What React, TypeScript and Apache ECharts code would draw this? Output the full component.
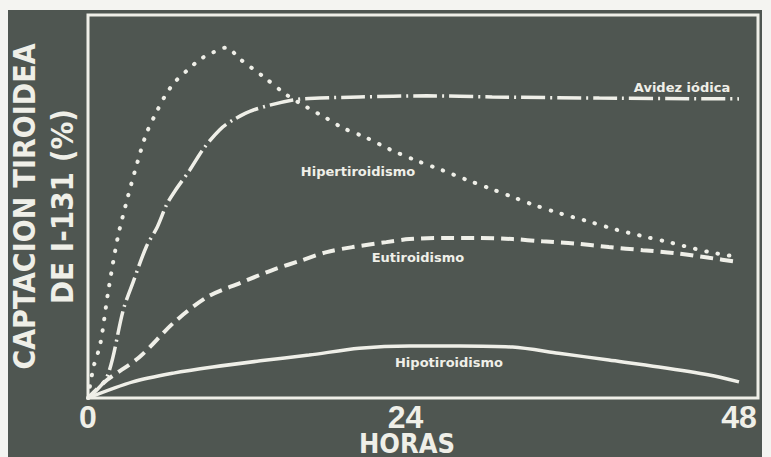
import React, { useEffect, useRef } from "react";
import * as echarts from "echarts";

// Horas after the I-131 dose vs. thyroid uptake (%), one curve per condition
const xTicks = [0, 24, 48];

const hipertiroidismo: [number, number][] = [
  [0, 0], [0.4, 8], [0.9, 14], [1.5, 28], [2.2, 42], [2.9, 52], [3.6, 61],
  [4.3, 69], [5.1, 75], [5.7, 79], [6.4, 82.5], [7.3, 85.5], [8.3, 88.5],
  [9.2, 90.2], [10.2, 91.5], [11.2, 88.5], [12.9, 84], [14.7, 79], [16.1, 76],
  [17.6, 73], [18.8, 70.5], [20.5, 68], [22.2, 65], [24.2, 62], [26.1, 59.5],
  [27.9, 57], [29.8, 54.5], [31.3, 52.5], [32.8, 50.5], [34.7, 48.3], [37, 46],
  [38.9, 44], [41.2, 42], [42.8, 40.7], [45.8, 38.1], [48, 36.8],
];

const avidezIodica: [number, number][] = [
  [0, 0], [1.4, 5.5], [2.6, 23], [3.3, 30], [4.3, 39.5], [5.1, 44.6],
  [5.8, 50.5], [6.4, 54], [7.5, 59.5], [8.5, 65], [9.7, 70], [10.7, 72.6],
  [12.2, 75.2], [15.1, 77.8], [17.1, 78.3], [20, 78.6], [25, 78.9],
  [29.8, 78.6], [37.7, 78.3], [48, 78.1],
];

const eutiroidismo: [number, number][] = [
  [0, 0], [1.4, 4.7], [3.8, 10.7], [6.3, 19.6], [8.8, 26.4], [11.2, 30],
  [13.6, 33.4], [15.8, 36], [17.6, 38.1], [19.5, 39.4], [22, 40.7],
  [23.7, 41.5], [26.1, 41.8], [28.6, 41.8], [31.3, 41.5], [33.5, 40.9],
  [36, 40.3], [38.4, 39.4], [40.9, 38.6], [43.4, 37.8], [45.8, 36.6], [48, 35.5],
];

const hipotiroidismo: [number, number][] = [
  [0, 0], [3.3, 4.2], [6.3, 6.5], [9.2, 8.1], [12.7, 9.7], [16.3, 11.2],
  [20, 13], [23.7, 13.6], [27.4, 13.6], [31.3, 13.3], [34.7, 11.7],
  [38.4, 9.9], [42.1, 8.1], [45.8, 6], [48, 4.2],
];

const INK = "#efefe8";
const BG = "#4f5651";
const TITLE_FONT = "'DejaVu Sans Condensed', 'DejaVu Sans', sans-serif";
const LABEL_FONT = "'DejaVu Sans', sans-serif";

export default function App() {
  const ref = useRef<HTMLDivElement>(null);

  useEffect(() => {
    if (!ref.current) return;
    const chart = echarts.init(ref.current, null, { renderer: "svg" });

    const curve = (name: string, data: [number, number][], lineStyle: any) => ({
      name,
      type: "line",
      data,
      smooth: 0.3,
      showSymbol: false,
      symbol: "none",
      lineStyle: { color: INK, ...lineStyle },
      z: 3,
    });

    const curveLabel = (text: string, x: number, y: number) => ({
      type: "text",
      x,
      y,
      style: {
        text,
        fill: INK,
        font: `bold 13px ${LABEL_FONT}`,
        align: "center",
        verticalAlign: "middle",
      },
      z: 10,
    });

    chart.setOption({
      animation: false,
      backgroundColor: BG,
      grid: {
        left: 80,
        top: 5,
        right: 4,
        bottom: 59,
        containLabel: false,
        outerBoundsMode: "none",
        show: true,
        borderColor: INK,
        borderWidth: 3,
        backgroundColor: "transparent",
      },
      xAxis: {
        type: "value",
        min: 0,
        max: 49.4,
        interval: 24,
        axisLine: { show: false },
        axisTick: { show: false },
        splitLine: { show: false },
        axisLabel: {
          color: INK,
          fontFamily: "'Liberation Sans', sans-serif",
          fontWeight: "bold",
          fontSize: 32,
          lineHeight: 24,
          margin: 7,
          formatter: (v: number) => {
            if (!xTicks.includes(v)) return "";
            return v === 24 ? `{mid|${v}}` : String(v);
          },
          rich: {
            mid: {
              color: INK,
              fontFamily: "'Liberation Sans', sans-serif",
              fontWeight: "bold",
              fontSize: 32,
              lineHeight: 24,
              padding: [0, 16, 0, 0],
            },
          },
        },
      },
      yAxis: {
        type: "value",
        min: 0,
        max: 100,
        name: "{a|CAPTACION TIROIDEA}\n{b|DE I-131 (%)}",
        nameLocation: "middle",
        nameRotate: 90,
        nameGap: 7,
        nameTextStyle: {
          color: INK,
          rich: {
            a: {
              color: INK,
              fontFamily: TITLE_FONT,
              fontWeight: "bold",
              fontSize: 30,
              lineHeight: 38,
            },
            b: {
              color: INK,
              fontFamily: TITLE_FONT,
              fontWeight: "bold",
              fontSize: 31,
              lineHeight: 38,
            },
          },
        },
        axisLine: { show: false },
        axisTick: { show: false },
        splitLine: { show: false },
        axisLabel: { show: false },
      },
      series: [
        curve("Hipertiroidismo", hipertiroidismo, {
          width: 4,
          type: [0.5, 11],
          cap: "round",
        }),
        curve("Avidez iódica", avidezIodica, {
          width: 3.5,
          type: [24, 5, 2, 5],
        }),
        curve("Eutiroidismo", eutiroidismo, {
          width: 4,
          type: [13, 7],
        }),
        curve("Hipotiroidismo", hipotiroidismo, {
          width: 3.5,
          type: "solid",
        }),
      ],
      graphic: [
        curveLabel("Avidez iódica", 674, 77),
        curveLabel("Hipertiroidismo", 350, 161),
        curveLabel("Eutiroidismo", 410, 247),
        curveLabel("Hipotiroidismo", 441, 352),
        {
          type: "text",
          x: 399,
          y: 433,
          style: {
            text: "HORAS",
            fill: INK,
            font: `bold 27px ${TITLE_FONT}`,
            lineHeight: 22,
            align: "center",
            verticalAlign: "middle",
          },
        },
      ],
    });

    return () => chart.dispose();
  }, []);

  return (
    <div
      style={{
        position: "absolute",
        left: 0,
        top: 0,
        width: 771,
        height: 457,
        background: "#f4f4f1",
        overflow: "hidden",
      }}
    >
      <div
        ref={ref}
        style={{ position: "absolute", left: 8, top: 10, width: 754, height: 447 }}
      />
    </div>
  );
}
